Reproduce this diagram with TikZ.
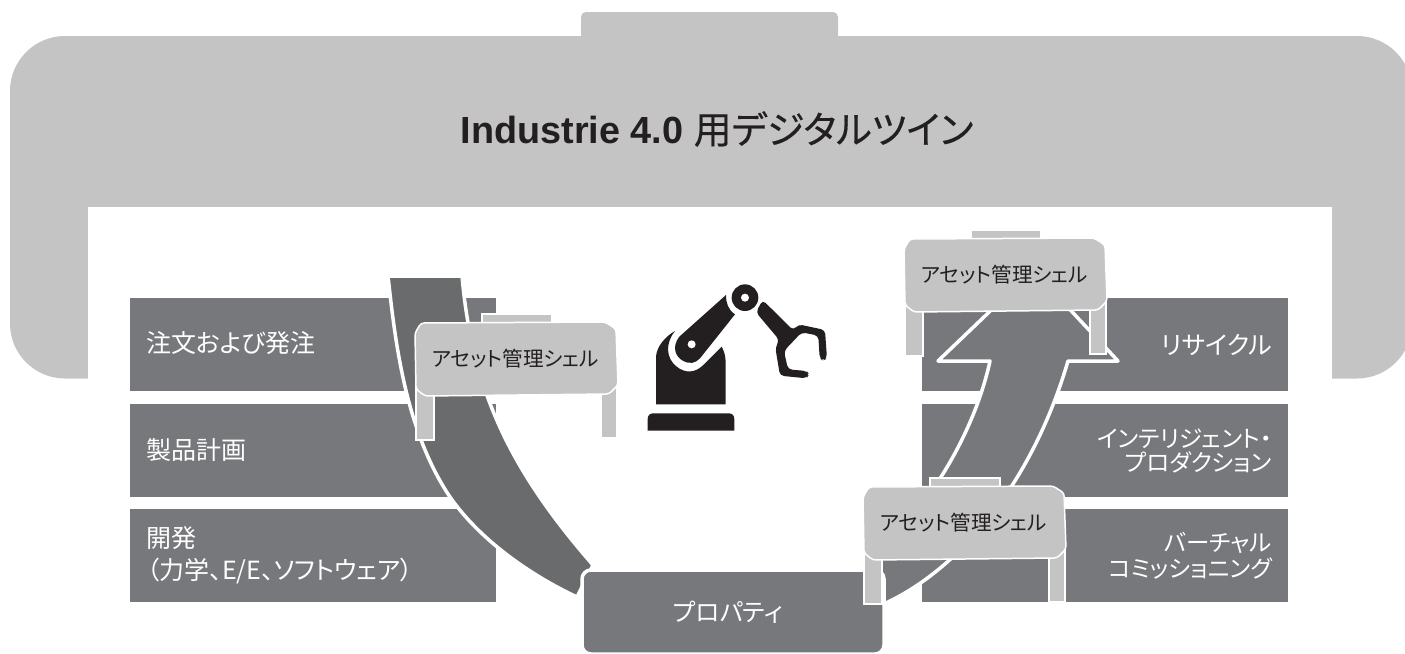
\documentclass[tikz,border=0pt]{standalone}
\usepackage{fontspec}
\setmainfont{Liberation Sans}
\newfontfamily\cjk[RawFeature=+palt]{Noto Sans CJK JP}
\newfontfamily\cjktitle[RawFeature=+palt,FakeBold=0.5]{Noto Sans CJK JP}
\definecolor{framegray}{HTML}{C4C4C4}
\definecolor{bargray}{HTML}{77787B}
\definecolor{swooshgray}{HTML}{6A6B6D}
\definecolor{robotblack}{HTML}{231F20}
\tikzset{
  bar/.style={fill=bargray,text=white,minimum width=366pt,minimum height=93pt,inner sep=0pt,
    text width=334pt,font=\cjk\fontsize{23.5}{24}\selectfont},
  barleft/.style={bar,align=left,font=\cjk\fontsize{25}{32}\selectfont},
  barright/.style={bar,align=right},
  swoosh/.style={draw=white,line width=3.5pt,line join=round},
  shelllabel/.style={text=robotblack,inner sep=0pt,font=\cjk\fontsize{20.6}{22}\selectfont},
}
\tikzset{
  shell/.pic={
   \path[fill=framegray,draw=white,line width=1.5pt] (67,-9) rectangle (137,2);
   \path[fill=framegray,draw=white,line width=1.5pt] (1,60) rectangle (19,117);
   \path[fill=framegray,draw=white,line width=1.5pt] (186,60) rectangle (202,115);
   \path[fill=framegray,draw=white,line width=1.5pt,rounded corners=3pt]
    (6,0) -- (190,-1) -- (201,6) -- (203,62) -- (194,71) -- (10,73) -- (1,66) -- (0,10) -- cycle;
   \node[shelllabel] (label) at (100.5,36) {アセット管理シェル};
  },
}
\tikzset{robot/.pic={
 \fill[robotblack] (53,467) -- (53,432) .. controls (53,421) and (60,415) .. (70,415) -- (296,415)
   .. controls (306,415) and (313,421) .. (313,432) -- (313,467) -- cycle;
 % tower
 \fill[robotblack] (78,388) -- (78,245) .. controls (80,215) and (105,185) .. (135,168)
   .. controls (105,205) and (108,250) .. (140,275) .. controls (165,295) and (195,295) .. (220,270)
   -- (275,215) .. controls (283,230) and (287,245) .. (287,262) -- (287,388) -- cycle;
 % arm
 \fill[robotblack] (288,60) -- (148,185) .. controls (125,215) and (135,245) .. (160,258)
   .. controls (180,268) and (195,265) .. (210,250) -- (315,118) .. controls (295,105) and (288,85) .. (288,60) -- cycle;
 \fill[white] (185,208) circle[radius=12];
 \fill[robotblack] (345,68) circle[radius=40];
 \fill[white] (345,68) circle[radius=12];
 % gripper
 \fill[robotblack,rounded corners=4pt] (398,75) -- (378,112) -- (448,195) -- (436,218) -- (450,302)
   -- (530,310) -- (538,298) -- (530,288) -- (474,283) -- (462,228) -- (515,172) -- (565,182)
   -- (569,250) -- (580,257) -- (591,250) -- (585,165) -- (505,148) -- (490,166) -- cycle;
 }
}
\begin{document}
\begin{tikzpicture}[x=1pt,y=-1pt]
  \useasboundingbox (0,0) rectangle (1405,653);

  % frame
  \fill[framegray,rounded corners=5pt] (581,40) -- (581,12) -- (838,12) -- (838,40) -- cycle;
  \fill[framegray,rounded corners=55pt] (10,36) rectangle (1412,378.5);
  \fill[white] (88,207) rectangle (1332,380);
  \node[inner sep=0pt,text=robotblack] (title) at (717,129)
    {\fontsize{37.8}{40}\selectfont\bfseries Industrie 4.0 {\cjktitle\mdseries 用デジタルツイン}};

  % bars
  \node[barleft] (order) at (313,344.5) {\raisebox{5pt}{注文および発注}};
  \node[barleft] (planning) at (313,450.5) {\raisebox{2pt}{製品計画}};
  \node[barleft] (development) at (313,555.5) {開発\\\hspace{1pt}（力学、E/E、ソフトウェア）};
  \node[barright,font=\cjk\fontsize{25}{26}\selectfont] (recycling) at (1105,344.5) {リサイクル\hspace{20pt}};
  \node[barright] (production) at (1105,450.5) {インテリジェント・\\プロダクション};
  \node[barright,font=\cjk\fontsize{23.5}{26}\selectfont] (commissioning) at (1105,555.5) {バーチャル\\コミッショニング};

  % arrows
  \path[swoosh,fill=swooshgray] (388,276) .. controls (395,340) and (405,430) .. (450,497)
    .. controls (480,540) and (530,575) .. (577,597)
    -- (593,565) .. controls (510,470) and (472,390) .. (462,276) -- cycle;
  \path[swoosh,fill=bargray] (888,602) .. controls (955,570) and (1030,490) .. (1068,361) -- (1118,361)
    -- (1033,270) -- (938,361) -- (990,361) .. controls (975,430) and (930,510) .. (872,555) -- (872,610) -- cycle;

  \node[fill=bargray,draw=white,line width=3.5pt,rounded corners=9pt,minimum width=302pt,minimum height=84pt,
    inner sep=0pt,text=white,font=\cjk\fontsize{24.6}{26}\selectfont] (property) at (733,612) {\hspace{-10pt}\raisebox{-5pt}{プロパティ}};

  \path (415,323) pic (shellleft) {shell};
  \path (904,239) pic (shelltop) {shell};
  \path (863,487) pic (shellbottom) {shell};

  \begin{scope}[shift={(630,275)},x=0.3333pt,y=-0.3333pt]
    \path (0,0) pic {robot};
  \end{scope}
\end{tikzpicture}
\end{document}
